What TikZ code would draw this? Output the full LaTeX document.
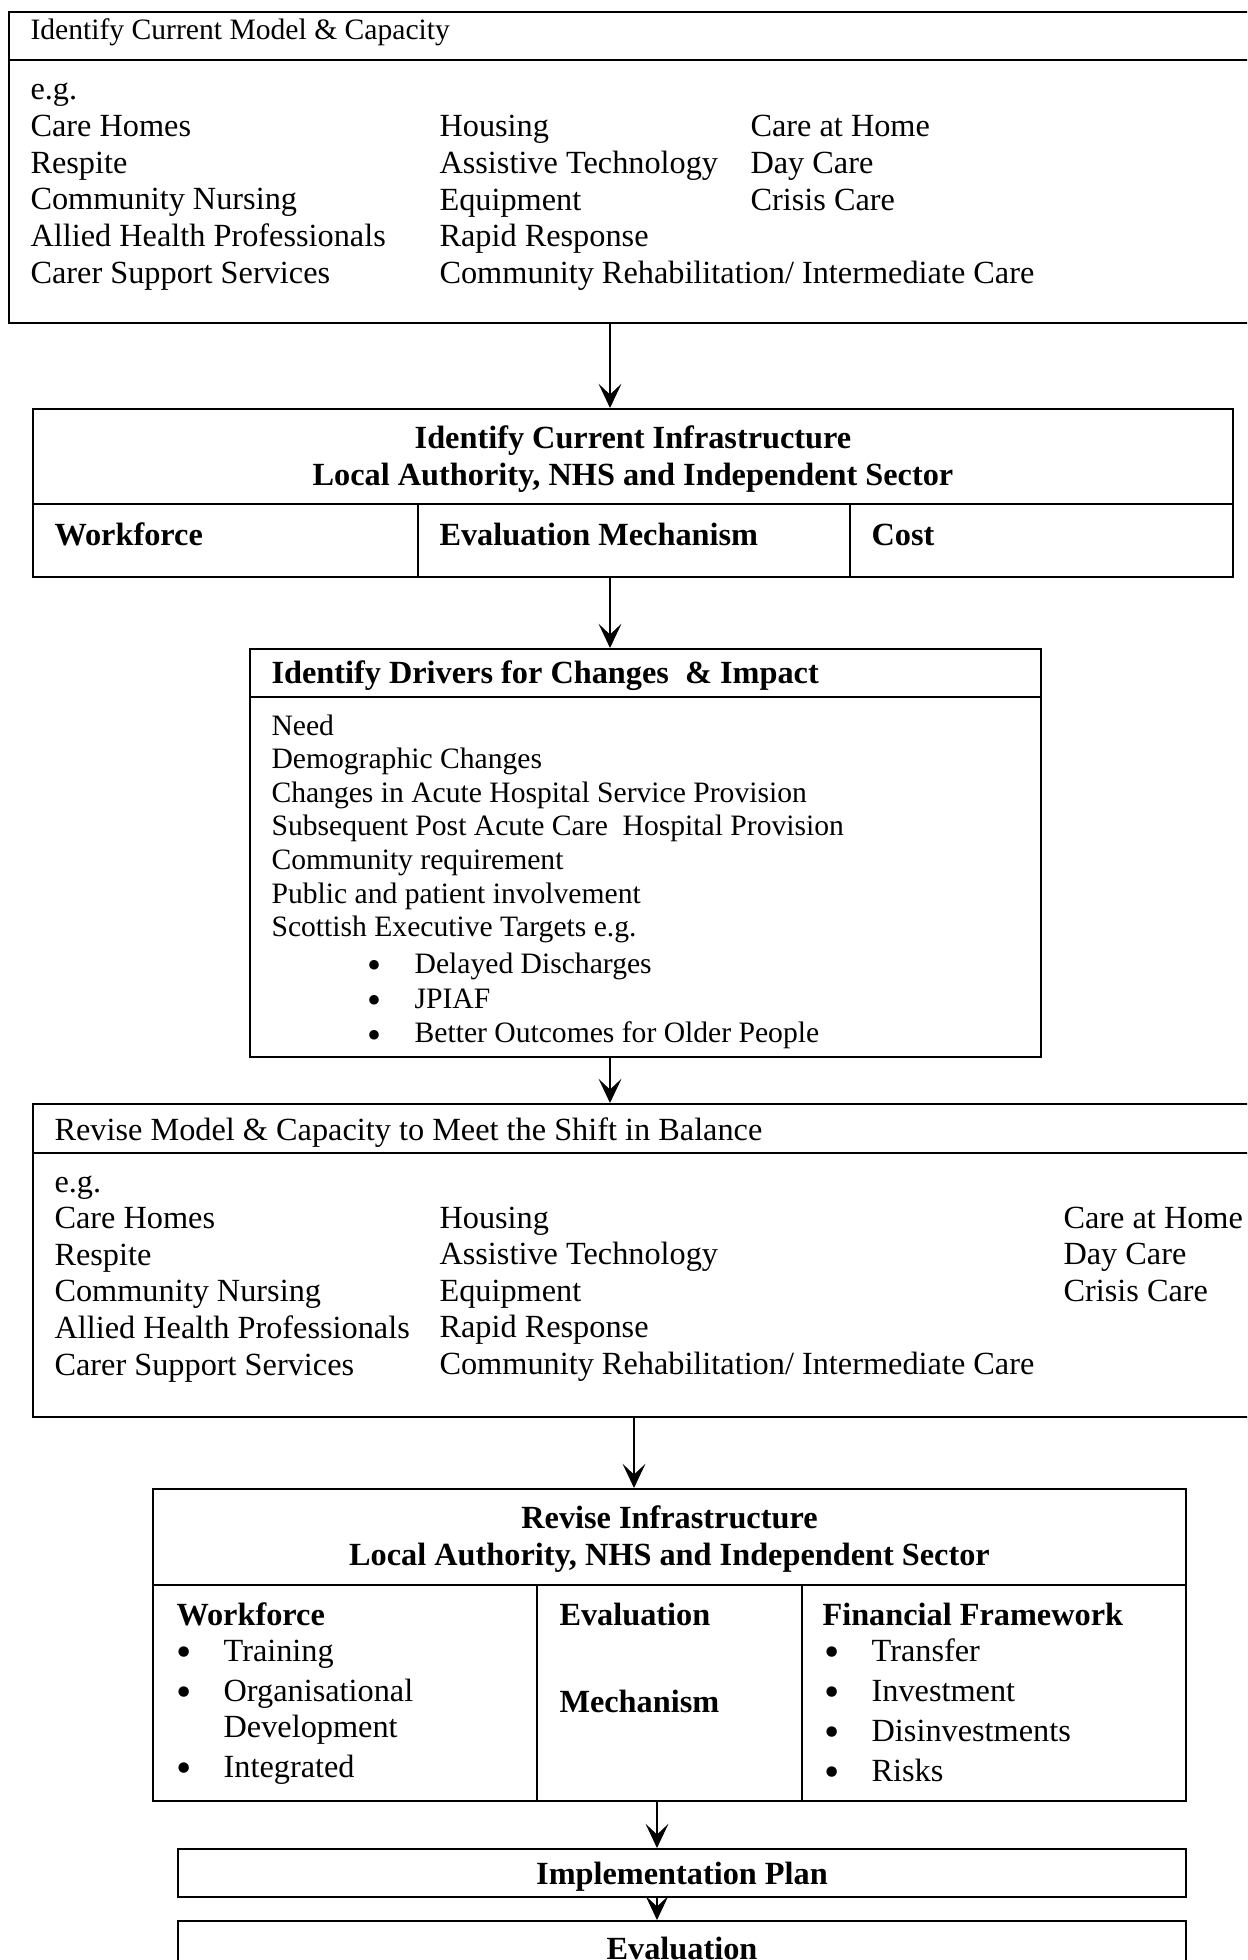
\documentclass[tikz,border=0pt]{standalone}
\usepackage{fontspec}
\setmainfont{Liberation Serif}
\usetikzlibrary{arrows.meta, fit}
\newcommand{\bodyfont}{\fontsize{12}{13.6}\selectfont}
\newcommand{\bul}{\makebox[17.5pt][l]{\smash{\raisebox{-2pt}{\scalebox{1.35}{\textbullet}}}}}
\newcommand{\leftrows}[1]{\begin{tabular}[t]{@{}l@{}}#1\end{tabular}}
\newcommand{\midrows}[1]{\begin{tabular}[t]{@{}c@{}}#1\end{tabular}}

\begin{document}
\begin{tikzpicture}[x=0.3715pt, y=-0.3715pt, font=\bodyfont, >={Stealth[length=9pt, width=8.5pt, inset=4pt]},
  box/.style={draw, line width=0.75pt, inner sep=0pt},
  sep/.style={line width=0.75pt},
  div/.style={line width=0.4pt},
  txt/.style={anchor=base west, inner sep=0pt},
  ctr/.style={anchor=base, inner sep=0pt, font=\fontsize{12}{14}\selectfont\bfseries}]
  \useasboundingbox (0,0) rectangle (1247,1960);
  \clip (0,0) rectangle (1247,1960);

  % current model
  \node[box, fit={(9,12) (1300,323)}] (model) {};
  \draw[sep] (9,60) -- (1300,60);
  \node[txt, font=\fontsize{11}{13}\selectfont] (modelhd) at (30,40) {Identify Current Model \& Capacity};
  \node[txt] (modelc1) at (30,100) {\leftrows{e.g.\\Care Homes\\Respite\\Community Nursing\\Allied Health Professionals\\Carer Support Services}};
  \node[txt] (modelc2) at (439,137) {\leftrows{Housing\\Assistive Technology\\Equipment\\Rapid Response\\Community Rehabilitation/ Intermediate Care}};
  \node[txt] (modelc3) at (750,137) {\leftrows{Care at Home\\Day Care\\Crisis Care}};

  % current infrastructure
  \node[box, fit={(33,409) (1233,577)}] (infra) {};
  \draw[sep] (33,504) -- (1233,504);
  \draw[div] (418,504) -- (418,577) (850,504) -- (850,577);
  \node[ctr] (infrahd) at (633,448) {\midrows{Identify Current Infrastructure\\Local Authority, NHS and Independent Sector}};
  \node[txt, font=\bodyfont\bfseries] (infrawf) at (54,545) {Workforce};
  \node[txt, font=\bodyfont\bfseries] (infraev) at (439,545) {Evaluation Mechanism};
  \node[txt, font=\bodyfont\bfseries] (infracost) at (871,545) {Cost};

  % drivers
  \node[box, fit={(250,649) (1041,1057)}] (drivers) {};
  \draw[sep] (250,697) -- (1041,697);
  \node[txt, font=\bodyfont\bfseries] (drivershd) at (271,683) {Identify Drivers for Changes~ \& Impact};
  \node[txt, font=\fontsize{11}{12.5}\selectfont] (driversc) at (271,735) {\leftrows{Need\\Demographic Changes\\Changes in Acute Hospital Service Provision\\Subsequent Post Acute Care~ Hospital Provision\\Community requirement\\Public and patient involvement\\Scottish Executive Targets e.g.}};
  \node[txt, font=\fontsize{11}{13}\selectfont] (targets) at (367,973) {\leftrows{\bul Delayed Discharges\\\bul JPIAF\\\bul Better Outcomes for Older People}};

  % revised model
  \node[box, fit={(33,1104) (1300,1417)}] (revmodel) {};
  \draw[sep] (33,1153) -- (1300,1153);
  \node[txt] (revmodelhd) at (54,1140) {Revise Model \& Capacity to Meet the Shift in Balance};
  \node[txt] (revc1) at (54,1192) {\leftrows{e.g.\\Care Homes\\Respite\\Community Nursing\\Allied Health Professionals\\Carer Support Services}};
  \node[txt] (revc2) at (439,1228) {\leftrows{Housing\\Assistive Technology\\Equipment\\Rapid Response\\Community Rehabilitation/ Intermediate Care}};
  \node[txt] (revc3) at (1063,1228) {\leftrows{Care at Home\\Day Care\\Crisis Care}};

  % revised infrastructure
  \node[box, fit={(153,1489) (1186,1801)}] (revinfra) {};
  \draw[sep] (153,1585) -- (1186,1585);
  \draw[div] (537,1585) -- (537,1801) (802,1585) -- (802,1801);
  \node[ctr] (revinfrahd) at (669.5,1528) {\midrows{Revise Infrastructure\\Local Authority, NHS and Independent Sector}};
  \node[txt, font=\bodyfont\bfseries] (revwf) at (176,1625) {Workforce};
  \node[txt, font=\fontsize{12}{13.4}\selectfont] (revwflist) at (176,1661) {\leftrows{\bul Training\\[1.5pt]\bul Organisational\\\hspace*{17.5pt}Development\\[1.5pt]\bul Integrated}};
  \node[txt, font=\bodyfont\bfseries] (revev) at (559,1625) {\leftrows{Evaluation\\[19pt]Mechanism}};
  \node[txt, font=\bodyfont\bfseries] (revfin) at (822,1625) {Financial Framework};
  \node[txt, font=\fontsize{12}{13.4}\selectfont] (revfinlist) at (824,1661) {\leftrows{\bul Transfer\\[1.5pt]\bul Investment\\[1.5pt]\bul Disinvestments\\[1.5pt]\bul Risks}};

  % plan and evaluation
  \node[box, fit={(178,1849) (1186,1897)}] (plan) {};
  \node[ctr] (planhd) at (682,1884) {Implementation Plan};
  \node[box, fit={(178,1921) (1186,2000)}] (eval) {};
  \node[ctr] (evalhd) at (682,1959) {Evaluation};

  \draw[->] (model.south -| 610,0) -- (infra.north -| 610,0);
  \draw[->] (infra.south -| 610,0) -- (drivers.north -| 610,0);
  \draw[->] (drivers.south -| 610,0) -- (revmodel.north -| 610,0);
  \draw[->] (revmodel.south -| 634,0) -- (revinfra.north -| 634,0);
  \draw[->] (revinfra.south -| 657,0) -- (plan.north -| 657,0);
  \draw[->] (plan.south -| 657,0) -- (eval.north -| 657,0);
\end{tikzpicture}
\end{document}
